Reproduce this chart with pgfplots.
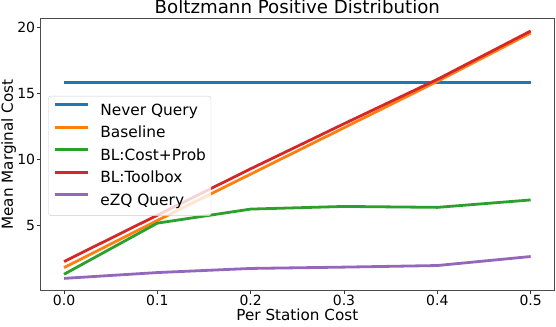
\documentclass[border=0pt]{standalone}
\usepackage{pgfplots}
\pgfplotsset{compat=1.18}
\usepackage{fontspec}
\setmainfont{DejaVu Sans}
\definecolor{tabblue}{HTML}{1F77B4}
\definecolor{taborange}{HTML}{FF7F0E}
\definecolor{tabgreen}{HTML}{2CA02C}
\definecolor{tabred}{HTML}{D62728}
\definecolor{tabpurple}{HTML}{9467BD}
\begin{document}
\begin{tikzpicture}
    \begin{axis}[
        name=ax,
        scale only axis,
        width=513.3pt,
        height=272.4pt,
        xmin=-0.025, xmax=0.525,
        ymin=0.1, ymax=20.66,
        xtick={0,0.1,0.2,0.3,0.4,0.5},
        xticklabels={0.0,0.1,0.2,0.3,0.4,0.5},
        ytick={5,10,15,20},
        tick align=outside,
        tick pos=left,
        major tick length=3.5pt,
        tick style={black!80, line width=0.8pt},
        axis line style={black!70, line width=0.8pt},
        /pgf/number format/assume math mode=true,
        tick label style={font=\fontsize{14}{16}\selectfont, inner sep=0pt},
        xticklabel style={anchor=base, yshift=-11.4pt},
        yticklabel style={anchor=base east, xshift=-1.9pt, yshift=-5.1pt},
        xlabel={Per Station Cost},
        ylabel={Mean Marginal Cost},
        label style={font=\fontsize{15.2}{18}\selectfont, inner sep=0pt},
        xlabel style={at={([yshift=-30pt]axis description cs:0.5,0)}, anchor=base},
        ylabel style={at={([xshift=-27.8pt]axis description cs:0,0.5)}, anchor=base},
        every axis title shift=0pt,
        title={Boltzmann Positive Distribution},
        title style={font=\fontsize{18.2}{20}\selectfont, inner sep=0pt,
            at={([yshift=4.5pt]axis description cs:0.5,1)}, anchor=base},
        legend cell align=left,
        legend style={
            at={(0.0148,0.715)}, anchor=north west,
            font=\fontsize{15.4}{18}\selectfont,
            draw=black!20, rounded corners=2.5pt,
            fill=white, fill opacity=0.8, text opacity=1,
            row sep=5pt, column sep=11pt, inner xsep=5pt, inner ysep=6pt,
            nodes={inner sep=0pt, text height=13pt, text depth=4.5pt}
        },
        every axis plot/.append style={line width=2.8pt},
        legend image code/.code={
            \draw[#1] (0pt,6pt) -- (33pt,6pt);
        },
    ]
        \addplot[tabblue] coordinates {
            (0.0,15.80) (0.1,15.80) (0.2,15.80) (0.3,15.80) (0.4,15.80) (0.5,15.80)
        };
        \addlegendentry{Never Query}

        \addplot[taborange] coordinates {
            (0.0,1.84) (0.1,5.4) (0.2,8.9) (0.3,12.4) (0.4,15.9) (0.5,19.55)
        };
        \addlegendentry{Baseline}

        \addplot[tabgreen] coordinates {
            (0.0,1.34) (0.1,5.2) (0.2,6.26) (0.3,6.46) (0.4,6.39) (0.5,6.95)
        };
        \addlegendentry{BL:Cost+Prob}

        \addplot[tabred] coordinates {
            (0.0,2.3) (0.1,5.8) (0.2,9.3) (0.3,12.7) (0.4,16.05) (0.5,19.7)
        };
        \addlegendentry{BL:Toolbox}

        \addplot[tabpurple] coordinates {
            (0.0,1.03) (0.1,1.47) (0.2,1.78) (0.3,1.88) (0.4,2.0) (0.5,2.68)
        };
        \addlegendentry{eZQ Query}
    \end{axis}
    \pgfresetboundingbox
    \path[use as bounding box]
        ([xshift=-40.7pt,yshift=-35.3pt]ax.south west)
        rectangle ([xshift=2pt,yshift=18.3pt]ax.north east);
\end{tikzpicture}
\end{document}
